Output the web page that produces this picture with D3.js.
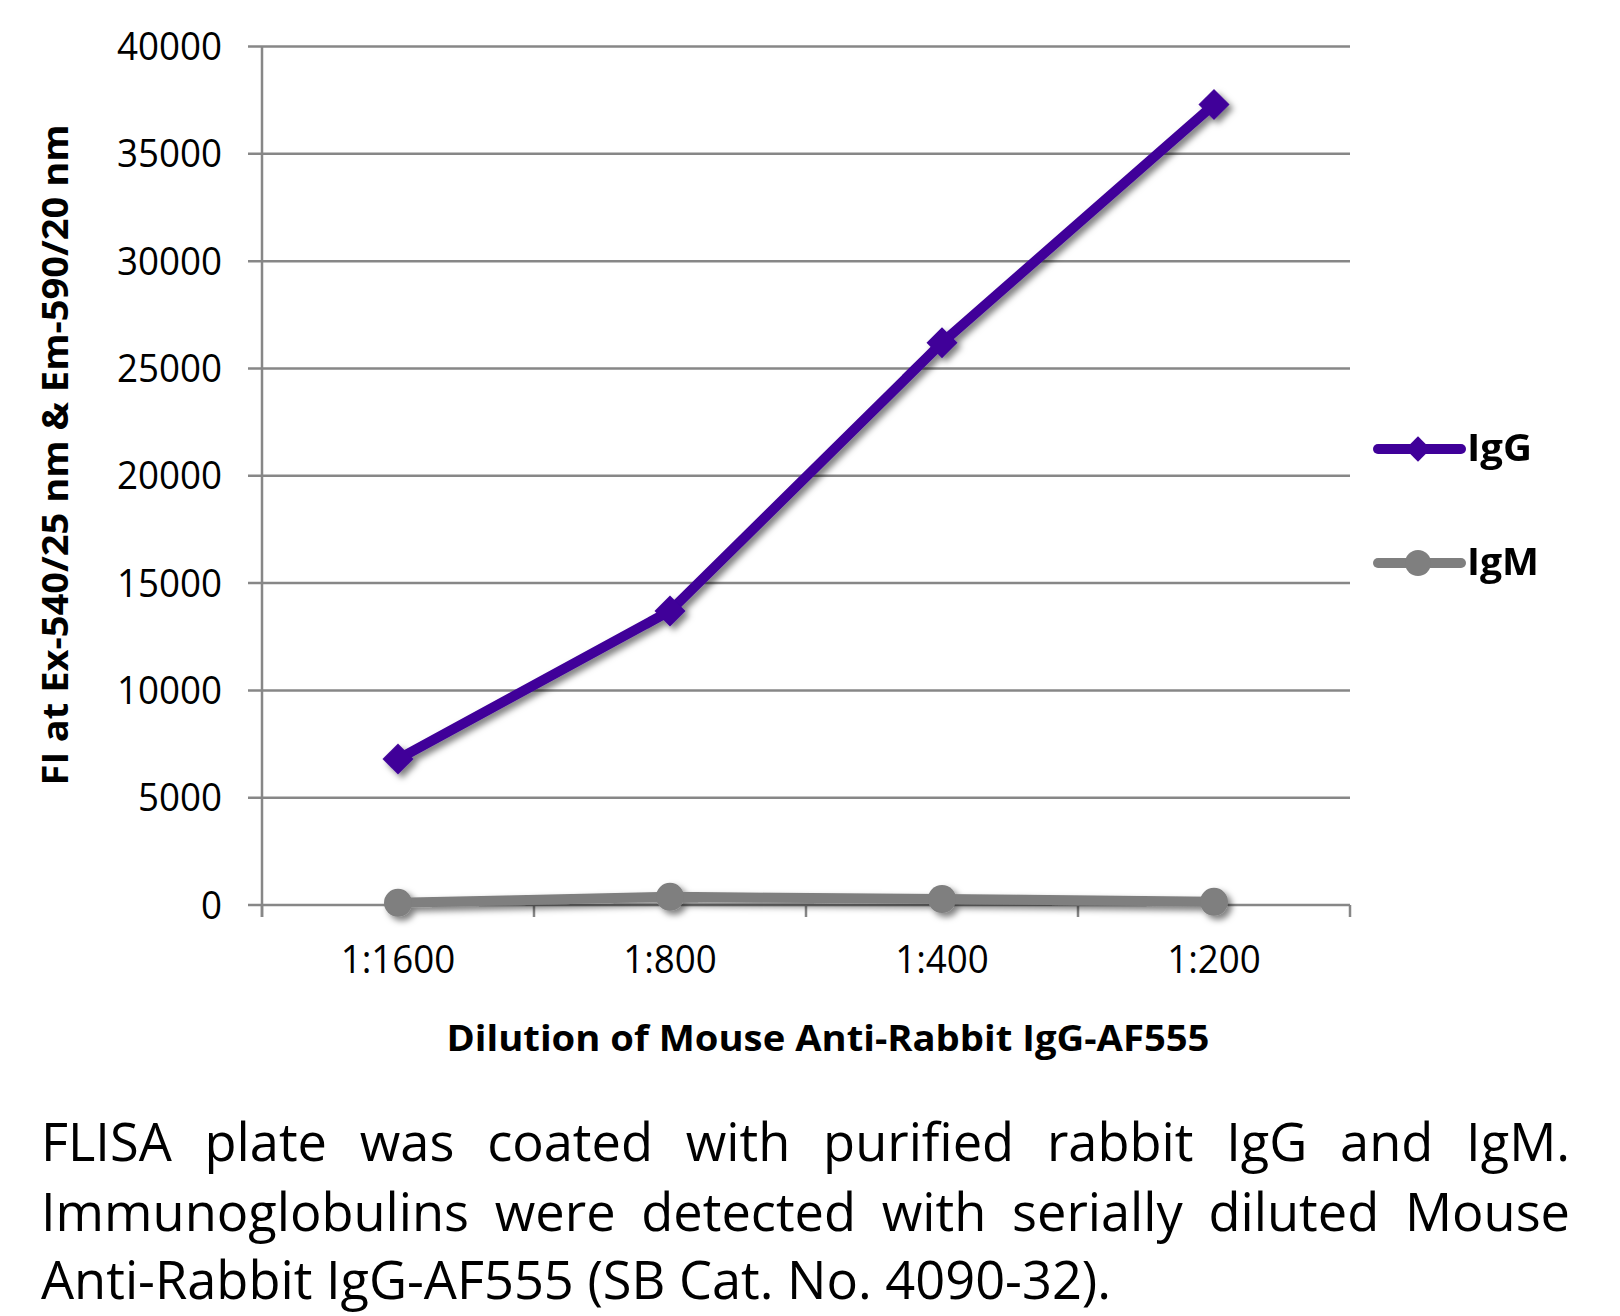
<!DOCTYPE html>
<html><head><meta charset="utf-8">
<script src="https://cdn.jsdelivr.net/npm/d3@7"></script>
<style>body{margin:0;background:#fff}svg{display:block}</style>
</head><body>
<script>
const categories = ["1:1600","1:800","1:400","1:200"];
const seriesNames = ["IgG","IgM"];
const igg = [6800,13700,26200,37300];
const igm = [100,380,280,150];
const yTicks = [0,5000,10000,15000,20000,25000,30000,35000,40000];
const yTitle = "FI at Ex-540/25 nm & Em-590/20 nm";
const xTitle = "Dilution of Mouse Anti-Rabbit IgG-AF555";
const captionLines = [
  "FLISA plate was coated with purified rabbit IgG and IgM.",
  "Immunoglobulins were detected with serially diluted Mouse",
  "Anti-Rabbit IgG-AF555 (SB Cat. No. 4090-32)."
];

const W=1620,H=1316;
const svg=d3.select("body").append("svg").attr("width",W).attr("height",H);
const defs=svg.append("defs");
const f=defs.append("filter").attr("id","sh").attr("x","-50%").attr("y","-50%").attr("width","200%").attr("height","200%");
f.append("feDropShadow").attr("dx",4).attr("dy",4).attr("stdDeviation",3).attr("flood-color","#000").attr("flood-opacity",0.5);

const FONT="'Open Sans', sans-serif";
const x=d3.scaleBand().domain(categories).range([262,1350]).padding(0);
const cx=d=>x(d)+x.bandwidth()/2;
const y=d3.scaleLinear().domain([0,40000]).range([905,46.5]);
const grid="#878787";

function fitW(sel,w){sel.attr("textLength",w).attr("lengthAdjust","spacingAndGlyphs");}

// gridlines
svg.append("g").selectAll("line").data(yTicks).join("line")
  .attr("x1",248).attr("x2",1350).attr("y1",d=>y(d)).attr("y2",d=>y(d))
  .attr("stroke",grid).attr("stroke-width",2.5);
// y axis line
svg.append("line").attr("x1",262).attr("x2",262).attr("y1",y(40000)).attr("y2",917).attr("stroke",grid).attr("stroke-width",2.5);
// x ticks at band boundaries
const bounds=categories.map(c=>x(c)).concat([x.range()[1]]);
svg.append("g").selectAll("line").data(bounds).join("line")
  .attr("x1",d=>d).attr("x2",d=>d).attr("y1",905).attr("y2",917).attr("stroke",grid).attr("stroke-width",2.5);

// y tick labels
const tmp=svg.append("text").attr("font-family",FONT).attr("font-size",38).text("40000");
const kDigits=105/tmp.node().getComputedTextLength(); tmp.remove();
svg.append("g").selectAll("text").data(yTicks).join("text")
  .attr("x",222).attr("y",d=>y(d)+13.5).attr("text-anchor","end")
  .attr("font-family",FONT).attr("font-size",38).attr("fill","#000")
  .text(d=>d)
  .each(function(){const w=this.getComputedTextLength();fitW(d3.select(this),w*kDigits);});
// x tick labels
svg.append("g").selectAll("text").data(categories).join("text")
  .attr("x",d=>cx(d)).attr("y",973).attr("text-anchor","middle")
  .attr("font-family",FONT).attr("font-size",38).attr("fill","#000")
  .text(d=>d)
  .each(function(){const w=this.getComputedTextLength();fitW(d3.select(this),w*kDigits);});

// titles
const yt=svg.append("text").attr("transform","translate(68,455) rotate(-90)").attr("text-anchor","middle")
  .attr("font-family",FONT).attr("font-weight",700).attr("font-size",35).text(yTitle);
fitW(yt,661);
const xt=svg.append("text").attr("x",828).attr("y",1051).attr("text-anchor","middle")
  .attr("font-family",FONT).attr("font-weight",700).attr("font-size",35).text(xTitle);
fitW(xt,763);

// series
const colors={IgG:"#3F0099",IgM:"#7F7F7F"};
const data=[{name:"IgG",vals:igg},{name:"IgM",vals:igm}];
const line=d3.line().x((d,i)=>cx(categories[i])).y(d=>y(d));
data.forEach(s=>{
  const g=svg.append("g").attr("filter","url(#sh)");
  g.append("path").attr("d",line(s.vals)).attr("fill","none").attr("stroke",colors[s.name])
    .attr("stroke-width",10).attr("stroke-linejoin","round").attr("stroke-linecap","round");
  if(s.name==="IgG"){
    g.selectAll("path.m").data(s.vals).join("path").attr("class","m")
      .attr("transform",(d,i)=>`translate(${cx(categories[i])},${y(d)}) rotate(45)`)
      .attr("d",d3.symbol().type(d3.symbolSquare).size(480)()).attr("fill",colors.IgG);
  } else {
    g.selectAll("circle").data(s.vals).join("circle")
      .attr("cx",(d,i)=>cx(categories[i])).attr("cy",d=>y(d)).attr("r",14).attr("fill",colors.IgM);
  }
});

// legend
const legY=[449,563];
const legWidths=[65,72];
seriesNames.forEach((n,i)=>{
  const g=svg.append("g");
  g.append("line").attr("x1",1378).attr("x2",1461).attr("y1",legY[i]).attr("y2",legY[i])
    .attr("stroke",colors[n]).attr("stroke-width",10).attr("stroke-linecap","round");
  if(n==="IgG") g.append("path").attr("transform",`translate(1418,${legY[i]}) rotate(45)`)
    .attr("d",d3.symbol().type(d3.symbolSquare).size(320)()).attr("fill",colors[n]);
  else g.append("circle").attr("cx",1418).attr("cy",legY[i]).attr("r",13).attr("fill",colors[n]);
  const t=g.append("text").attr("x",1467).attr("y",legY[i]+12).attr("font-family",FONT)
    .attr("font-weight",700).attr("font-size",38).text(n);
  fitW(t,legWidths[i]);
});

// caption (justified)
const capFS=53, left=41, right=1570;
const baselines=[1161,1231,1299];
const m=svg.append("text").attr("font-family",FONT).attr("font-size",capFS).text(captionLines[2]);
const kCap=1070/m.node().getComputedTextLength(); m.remove();
captionLines.forEach((ln,li)=>{
  const words=ln.split(" ");
  const ws=words.map(w=>{const t=svg.append("text").attr("font-family",FONT).attr("font-size",capFS).text(w);const l=t.node().getComputedTextLength();t.remove();return l*kCap;});
  const sp=svg.append("text").attr("font-family",FONT).attr("font-size",capFS).text("a a");
  const spl=(sp.node().getComputedTextLength()); sp.remove();
  const aa=svg.append("text").attr("font-family",FONT).attr("font-size",capFS).text("aa");
  const spaceW=(spl-aa.node().getComputedTextLength())*kCap; aa.remove();
  const total=d3.sum(ws);
  const gap= li<2 ? (right-left-total)/(words.length-1) : spaceW;
  let xx=left;
  words.forEach((w,i)=>{
    const t=svg.append("text").attr("x",xx).attr("y",baselines[li]).attr("font-family",FONT)
      .attr("font-size",capFS).attr("fill","#000").text(w);
    fitW(t,ws[i]);
    xx+=ws[i]+gap;
  });
});
</script>
</body></html>
